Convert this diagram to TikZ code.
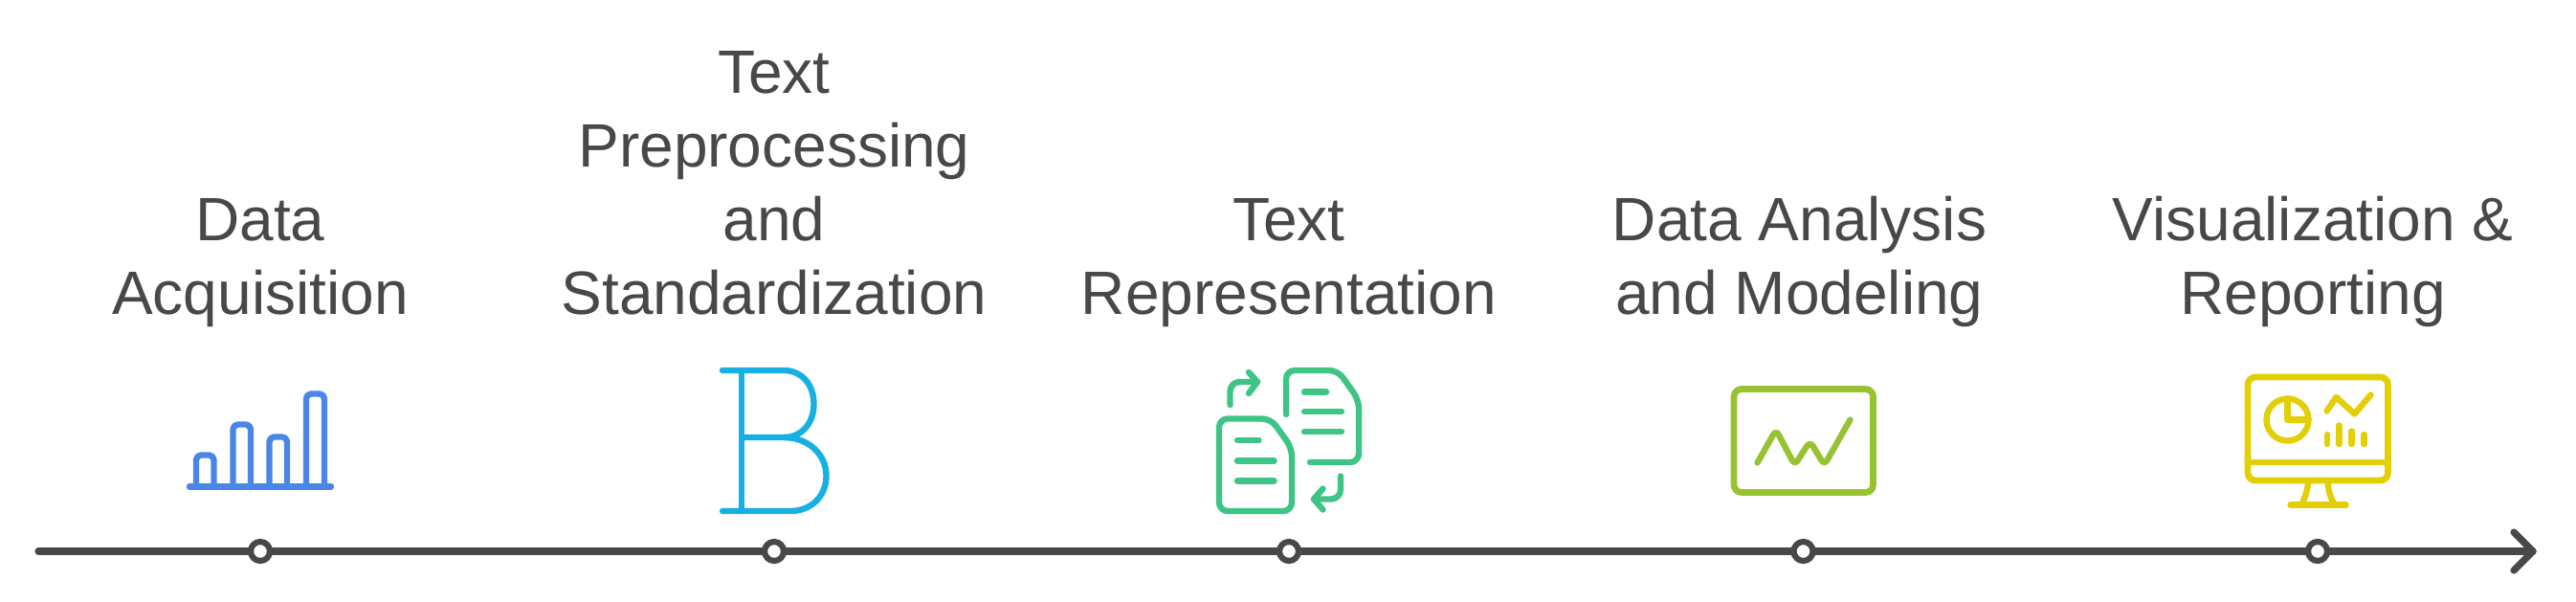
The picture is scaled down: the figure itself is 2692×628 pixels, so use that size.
\documentclass[tikz,border=0pt]{standalone}
\usepackage{fontspec}
\setmainfont{Liberation Sans}
\definecolor{label gray}{rgb}{0.2824, 0.2824, 0.2824}
\definecolor{bars blue}{rgb}{0.2902, 0.5255, 0.9098}
\definecolor{letter cyan}{rgb}{0.0902, 0.6902, 0.8941}
\definecolor{docs green}{rgb}{0.2392, 0.7725, 0.5216}
\definecolor{chart green}{rgb}{0.5922, 0.7647, 0.2000}
\definecolor{screen yellow}{rgb}{0.8902, 0.8118, 0.0196}
\tikzset{
	steplabel/.style={anchor=base, align=center, inner sep=0, text=label gray,
		font=\fontsize{32}{38.4}\selectfont},
	stepdot/.style={circle, draw=label gray, fill=white, line width=3.1pt, inner sep=0, minimum size=10pt},
	axisline/.style={draw=label gray, line width=3.6pt, line cap=round, line join=round},
	icon/.style={line width=3.2pt, line cap=round, line join=round}
}
\begin{document}
\begin{tikzpicture}[x=0.5pt, y=-0.5pt]
		\useasboundingbox (0, 0) rectangle (2692, 628);
		% axis
		\coordinate (axisstart) at (40, 576);
		\coordinate (axistip) at (2647, 576);
		\draw[axisline] (axisstart) -- (axistip);
		\draw[axisline] (axistip) ++(-20, -20) -- (axistip) -- ++(-20, 20);
		\node[stepdot] (dotA) at (272, 576) {};
		\node[stepdot] (dotB) at (809, 576) {};
		\node[stepdot] (dotC) at (1347, 576) {};
		\node[stepdot] (dotD) at (1884.5, 576) {};
		\node[stepdot] (dotE) at (2422, 576) {};
		% labels
		\node[steplabel] (labelA) at (272, 328) {Data\\Acquisition};
		\node[steplabel] (labelB) at (809, 328) {Text\\Preprocessing\\and\\Standardization};
		\node[steplabel] (labelC) at (1347, 328) {Text\\Representation};
		\node[steplabel] (labelD) at (1880.5, 328) {Data Analysis\\and Modeling};
		\node[steplabel] (labelE) at (2417, 328) {Visualization \&\\Reporting};
		% bars
		\begin{scope}[bars blue, icon, rounded corners=2.5pt]
			\draw (198, 508.5) -- (346, 508.5);
			\draw (205, 508.5) -- (205, 475.5) -- (223.5, 475.5) -- (223.5, 508.5);
			\draw (243.5, 508.5) -- (243.5, 443.5) -- (262, 443.5) -- (262, 508.5);
			\draw (281.5, 508.5) -- (281.5, 456.5) -- (300, 456.5) -- (300, 508.5);
			\draw (320, 508.5) -- (320, 411.5) -- (339, 411.5) -- (339, 508.5);
		\end{scope}
		% letter
		\begin{scope}[letter cyan, icon]
			\draw (755, 387) -- (819, 387) .. controls (838, 387) and (850.5, 402) .. (850.5, 422)
				.. controls (850.5, 442) and (838, 457) .. (819, 457) -- (775, 457);
			\draw (819, 457) .. controls (845, 457) and (863.5, 475) .. (863.5, 497)
				.. controls (863.5, 519) and (847, 534) .. (826, 534) -- (755, 534);
			\draw (775, 387) -- (775, 534);
		\end{scope}
		% documents
		\begin{scope}[docs green, icon]
			\draw[rounded corners=4.5pt] (1300, 437.5) -- (1328, 437.5) -- (1350, 468) -- (1350, 534) -- (1274, 534) -- (1274, 437.5) -- cycle;
			\draw[rounded corners=4.5pt] (1344, 433) -- (1344, 387) -- (1398, 387) -- (1420, 418) -- (1420, 483) -- (1369, 483);
			\draw (1293, 460) -- (1315.5, 460) (1293, 481.5) -- (1331.5, 481.5) (1293, 502.5) -- (1331.5, 502.5);
			\draw (1363, 409.5) -- (1386, 409.5) (1363, 430) -- (1402, 430) (1363, 451) -- (1402, 451);
			\draw[rounded corners=5pt] (1285.5, 423) -- (1285.5, 399) -- (1314, 399);
			\draw (1305, 389) -- (1314, 399) -- (1305, 411);
			\draw[rounded corners=5pt] (1401, 497.5) -- (1401, 521.5) -- (1373, 521.5);
			\draw (1382.5, 510.5) -- (1373, 521.5) -- (1382.5, 532.5);
		\end{scope}
		% chart
		\begin{scope}[chart green, icon]
			\draw[line width=3.4pt, rounded corners=4pt] (1812, 406.5) rectangle (1957.5, 514.5);
			\draw[rounded corners=3pt] (1836.5, 483.5) -- (1856, 449) -- (1875.5, 486) -- (1891.5, 461) -- (1906.5, 486) -- (1933.5, 438.5);
		\end{scope}
		% screen
		\begin{scope}[screen yellow, icon]
			\draw[line width=3.4pt, rounded corners=4pt] (2349, 394) rectangle (2495.5, 502);
			\draw[line width=3.4pt] (2349, 483) -- (2495.5, 483);
			\draw (2390.5, 438.5) circle (22);
			\draw (2390.5, 416.5) -- (2390.5, 438.5) -- (2412.5, 438.5);
			\draw (2431.5, 429.5) -- (2441.5, 415) -- (2460.5, 432.5) -- (2477.5, 412.5);
			\draw (2432, 454) -- (2432, 464) (2444.5, 444.5) -- (2444.5, 464) (2457.5, 450.5) -- (2457.5, 464) (2470.5, 454) -- (2470.5, 464);
			\draw (2393.5, 527.5) -- (2451.5, 527.5);
			\draw (2412, 505) .. controls (2411, 514) and (2408, 522) .. (2405, 527.5);
			\draw (2432.5, 505) .. controls (2433.5, 514) and (2436, 522) .. (2440, 527.5);
		\end{scope}
	\end{tikzpicture}
\end{document}
